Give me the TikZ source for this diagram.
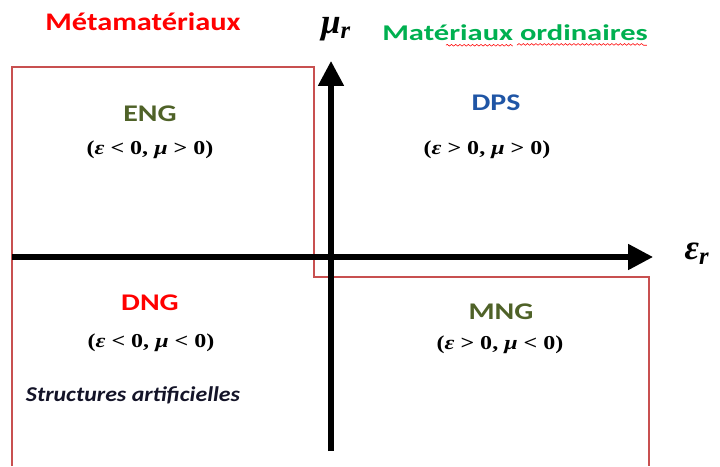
\documentclass[tikz,border=0pt]{standalone}
\usepackage{amsmath,bm}
\usepackage{fontspec}
\setmainfont{Liberation Serif}
\newfontfamily\calibri{Carlito}
\usetikzlibrary{arrows.meta,decorations.pathmorphing}
\definecolor{metared}{RGB}{255,0,0}
\definecolor{ordgreen}{RGB}{0,176,80}
\definecolor{olivetxt}{RGB}{79,98,40}
\definecolor{dpsblue}{RGB}{31,85,165}
\definecolor{boxred}{RGB}{200,80,80}
\definecolor{darktxt}{RGB}{20,20,40}

\begin{document}
\begin{tikzpicture}[x=0.025cm, y=-0.025cm, every node/.style={inner sep=0pt}]
\tikzstyle{axis}=[line width=3.6pt, -{Triangle[length=6.2mm, width=6.2mm]}]
\tikzstyle{title}=[font=\calibri\bfseries\fontsize{18}{21}\selectfont, transform shape, xscale=1.2]
\tikzstyle{region}=[font=\calibri\bfseries\fontsize{17}{20}\selectfont, transform shape, xscale=1.25]
\tikzstyle{sign}=[font=\bfseries\fontsize{14}{17}\selectfont, transform shape, xscale=1.22]
\tikzstyle{axlabel}=[font=\bfseries\itshape\fontsize{25}{28}\selectfont]
\useasboundingbox (0,0) rectangle (720,466);
\draw[boxred, line width=1.1pt] (12,466) -- (12,67) -- (314,67) -- (314,277) -- (649,277) -- (649,466);
\coordinate (xl) at (12,257);
\coordinate (xr) at (653,257);
\coordinate (yb) at (331,451);
\coordinate (yt) at (331,61);
\draw[axis] (xl) -- (xr);
\draw[axis] (yb) -- (yt);
\node[title, text=metared] (meta) at (143,22) {Métamatériaux};
\node[title, text=ordgreen, font=\calibri\bfseries\fontsize{16}{19}\selectfont, xscale=1.13] (ordi) at (515,33) {Matériaux ordinaires};
\draw[metared, line width=0.4pt, decorate, decoration={snake, amplitude=0.6pt, segment length=3pt}] (ordi.south west) ++(64,4) -- ++(66,0) ++(5,0) -- ++(130,0);
\node[axlabel] (mur) at (336,29) {μ\textsubscript{r}};
\node[axlabel] (epsr) at (697,254) {ε\textsubscript{r}};
\node[region, text=olivetxt] (eng) at (150,114) {ENG};
\node[sign] (engs) at (150,150) {({\itshape ε} < 0, {\itshape μ} > 0)};
\node[region, text=dpsblue] (dps) at (496,103) {DPS};
\node[sign] (dpss) at (487,150) {({\itshape ε} > 0, {\itshape μ} > 0)};
\node[region, text=metared] (dng) at (150,303) {DNG};
\node[sign] (dngs) at (151,343) {({\itshape ε} < 0, {\itshape μ} < 0)};
\node[region, text=olivetxt] (mng) at (501,312) {MNG};
\node[sign] (mngs) at (500,345) {({\itshape ε} > 0, {\itshape μ} < 0)};
\node[font=\calibri\bfseries\itshape\fontsize{15}{18}\selectfont, text=darktxt, transform shape, xscale=1.13] (arti) at (133,395) {Structures artificielles};
\end{tikzpicture}
\end{document}
